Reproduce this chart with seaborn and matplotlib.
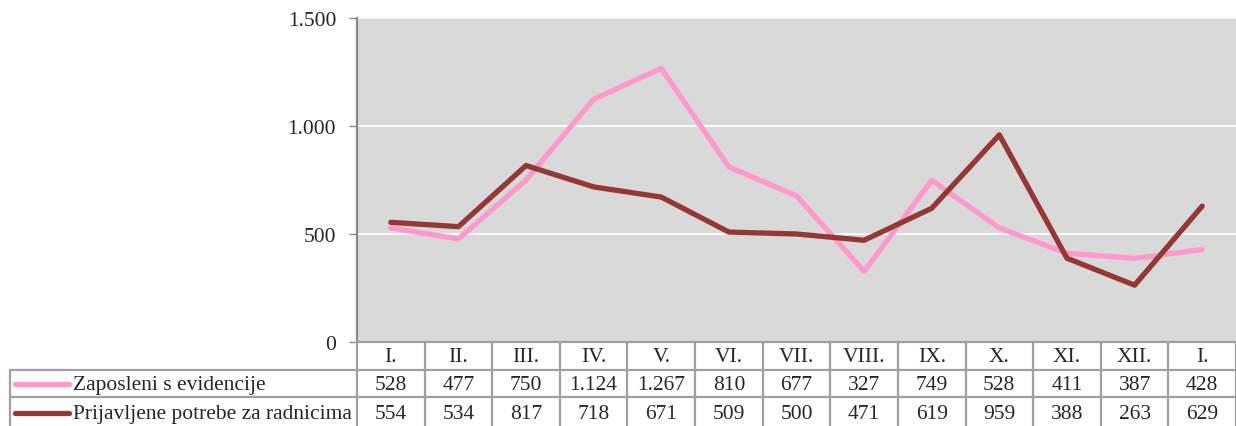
import numpy as np
import pandas as pd
import seaborn as sns
import matplotlib.pyplot as plt
from matplotlib.lines import Line2D
from matplotlib.ticker import FuncFormatter

meseci = ['I.', 'II.', 'III.', 'IV.', 'V.', 'VI.', 'VII.', 'VIII.', 'IX.', 'X.', 'XI.', 'XII.', 'I.']
zaposleni = [528, 477, 750, 1124, 1267, 810, 677, 327, 749, 528, 411, 387, 428]
potrebe = [554, 534, 817, 718, 671, 509, 500, 471, 619, 959, 388, 263, 629]
serije = ['Zaposleni s evidencije', 'Prijavljene potrebe za radnicima']
boje = ['#ff99cc', '#953735']

sns.set_theme(style="white")
plt.rcParams['font.family'] = ['Liberation Serif', 'DejaVu Serif']
FS = 15.5
LW = 3.8

def tocka(v):
    return f'{v:,.0f}'.replace(',', '.')

df = pd.DataFrame({
    'x': list(range(len(meseci))) * 2,
    'vrednost': zaposleni + potrebe,
    'serija': [serije[0]] * len(meseci) + [serije[1]] * len(meseci),
})

W, H = 1236, 427
fig = plt.figure(figsize=(W / 100, H / 100), dpi=100)
left, right, top, bottom = 357, 1236, 19, 343
ax = fig.add_axes([left / W, 1 - bottom / H, (right - left) / W, (bottom - top) / H])
ax.set_facecolor('#d9d9d9')

sns.lineplot(data=df, x='x', y='vrednost', hue='serija', palette=boje,
             linewidth=LW, legend=False, ax=ax, zorder=5)

ax.set_xlim(-0.5, len(meseci) - 0.5)
ax.set_ylim(0, 1500)
ax.set_yticks([0, 500, 1000, 1500])
ax.yaxis.set_major_formatter(FuncFormatter(lambda v, p: tocka(v)))
ax.yaxis.grid(True, color='white', linewidth=1.2)
ax.set_axisbelow(True)
ax.set_xticks([])
ax.set_xlabel('')
ax.set_ylabel('')
ax.tick_params(axis='y', which='both', left=True, length=6, width=1, color='#868686',
               labelsize=FS, pad=9, direction='out')
for s in ['top', 'right', 'bottom']:
    ax.spines[s].set_visible(False)
ax.spines['left'].set_color('#868686')
ax.spines['left'].set_linewidth(1.5)

# tabela s podacima (u pikselima slike)
def fx(px):
    return px / W

def fy(py):
    return 1 - py / H

def crta(x0, x1, y0, y1):
    fig.add_artist(Line2D([fx(x0), fx(x1)], [fy(y0), fy(y1)], color='#a0a0a0', linewidth=1.6))

tab_left = 10
col_w = (right - left) / len(meseci)
redovi = [343, 371, 398, 430]

crta(left, right, redovi[0], redovi[0])
for yy in redovi[1:]:
    crta(tab_left, right, yy, yy)
crta(tab_left, tab_left, redovi[1], redovi[3])
for i in range(len(meseci) + 1):
    xx = left + i * col_w
    crta(xx, xx, redovi[0], redovi[3])

for i, m in enumerate(meseci):
    xc = left + (i + 0.5) * col_w
    fig.text(fx(xc), fy((redovi[0] + redovi[1]) / 2 + 1), m, ha='center', va='center', fontsize=FS)
    for r, vals in enumerate([zaposleni, potrebe]):
        fig.text(fx(xc), fy((redovi[r + 1] + redovi[r + 2]) / 2 + 1), tocka(vals[i]),
                 ha='center', va='center', fontsize=FS)

for r, (naziv, b) in enumerate(zip(serije, boje)):
    yc = (redovi[r + 1] + redovi[r + 2]) / 2
    fig.add_artist(Line2D([fx(15), fx(69)], [fy(yc), fy(yc)], color=b, linewidth=LW,
                          solid_capstyle='round'))
    fig.text(fx(73), fy(yc + 1), naziv, ha='left', va='center', fontsize=FS)

fig.savefig('out.png', dpi=100)
